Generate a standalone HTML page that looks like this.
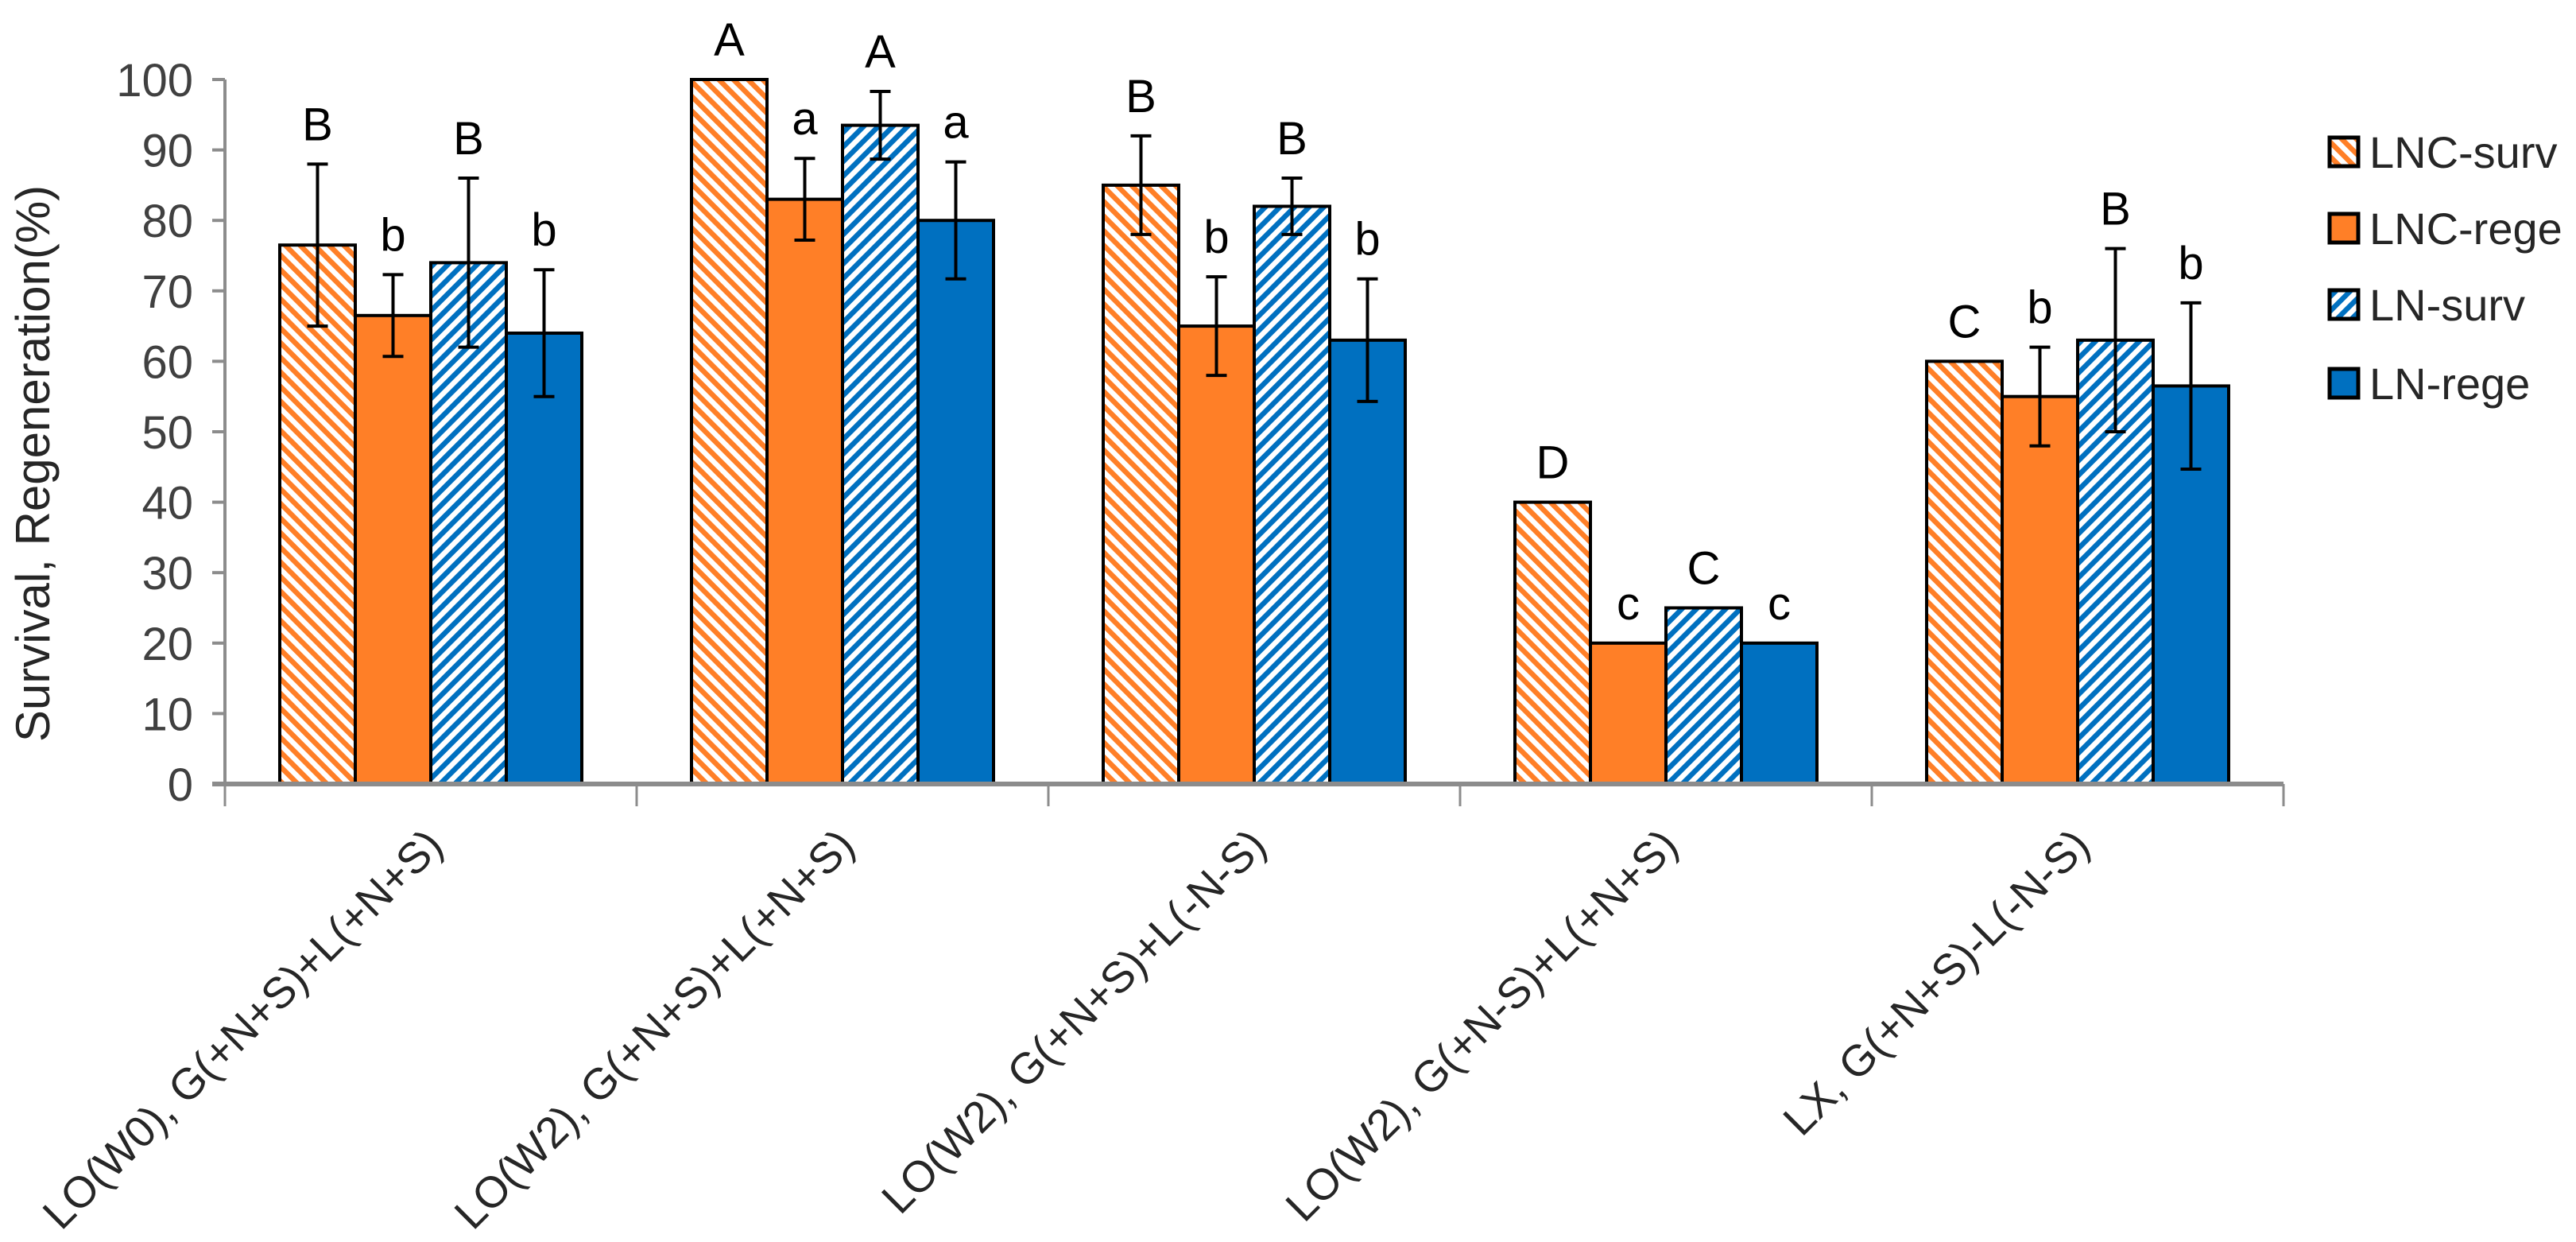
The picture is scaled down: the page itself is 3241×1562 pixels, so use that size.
<!DOCTYPE html>
<html><head><meta charset="utf-8"><style>
html,body{margin:0;padding:0;background:#fff;}
svg{display:block;font-family:"Liberation Sans",sans-serif;}
</style></head><body>
<svg id="chart" width="3241" height="1562" viewBox="0 0 3241 1562">
<defs>
<pattern id="pOr" patternUnits="userSpaceOnUse" width="13" height="13" patternTransform="rotate(-45)">
<rect width="13" height="13" fill="#ff7f27"/><rect width="6.5" height="13" fill="#fff"/></pattern>
<pattern id="pBl" patternUnits="userSpaceOnUse" width="13" height="13" patternTransform="rotate(45)">
<rect width="13" height="13" fill="#0070c0"/><rect width="6.5" height="13" fill="#fff"/></pattern>
</defs>
<g id="plot"></g>
</svg>
<script>
const categories=["LO(W0), G(+N+S)+L(+N+S)","LO(W2), G(+N+S)+L(+N+S)","LO(W2), G(+N+S)+L(-N-S)","LO(W2), G(+N-S)+L(+N+S)","LX, G(+N+S)-L(-N-S)"];
const seriesNames=["LNC-surv","LNC-rege","LN-surv","LN-rege"];
const lncSurv=[76.5,100,85,40,60];
const lncRege=[66.5,83,65,20,55];
const lnSurv=[74,93.5,82,25,63];
const lnRege=[64,80,63,20,56.5];
const lncSurvErr=[11.5,0,7,0,0];
const lncRegeErr=[5.8,5.8,7,0,7];
const lnSurvErr=[12,4.8,4,0,13];
const lnRegeErr=[9,8.3,8.7,0,11.8];
const lncSurvLetters=["B","A","B","D","C"];
const lncRegeLetters=["b","a","b","c","b"];
const lnSurvLetters=["B","A","B","C","B"];
const lnRegeLetters=["b","a","b","c","b"];
const yTicks=[0,10,20,30,40,50,60,70,80,90,100];

const NS="http://www.w3.org/2000/svg";
const g=document.getElementById('plot');
const x0=283,x1=2873,y0=986,y100=100;
const catW=(x1-x0)/categories.length, barW=catW*0.1834;
function yS(v){return y0-(y0-y100)*v/100;}
function mk(t,a,txt){const e=document.createElementNS(NS,t);for(const k in a)e.setAttribute(k,a[k]);if(txt!==undefined)e.textContent=txt;g.appendChild(e);return e;}

let ya=mk('line',{x1:x0,y1:y100,x2:x0,y2:y0,stroke:'#8c8c8c','stroke-width':4});


yTicks.forEach(v=>{
  let t=mk('line',{x1:x0-16,y1:yS(v),x2:x0,y2:yS(v),stroke:'#8c8c8c','stroke-width':4});
  
  
  let l=mk('text',{x:x0-40,y:yS(v)+21,'text-anchor':'end','font-size':58,fill:'#404040'},v);
  
  
});
let yt=mk('text',{x:0,y:0,'text-anchor':'middle','font-size':60,fill:'#262626',transform:`translate(62,${(y0+y100)/2+40}) rotate(-90)`},'Survival, Regeneration(%)');



const series=[
 {v:lncSurv,e:lncSurvErr,l:lncSurvLetters,f:'url(#pOr)'},
 {v:lncRege,e:lncRegeErr,l:lncRegeLetters,f:'#ff7f27'},
 {v:lnSurv,e:lnSurvErr,l:lnSurvLetters,f:'url(#pBl)'},
 {v:lnRege,e:lnRegeErr,l:lnRegeLetters,f:'#0070c0'}];
const names=['lnc-surv','lnc-rege','ln-surv','ln-rege'];
categories.forEach((c,i)=>{
  const cx=x0+catW*(i+0.5);
  series.forEach((s,j)=>{
    const bx=cx-2*barW+j*barW, v=s.v[i];
    let r=mk('rect',{x:bx,y:yS(v),width:barW,height:y0-yS(v),fill:s.f,stroke:'#000','stroke-width':4});
    
    
    const mx=bx+barW/2; let top=yS(v);
    if(s.e[i]>0){
      const ht=yS(v+s.e[i]), hb=yS(v-s.e[i]);
      let eb=mk('path',{d:`M${mx},${ht}V${hb}M${mx-13},${ht}H${mx+13}M${mx-13},${hb}H${mx+13}`,stroke:'#000','stroke-width':4,fill:'none'});
      
      
      top=ht;
    }
    let lt=mk('text',{x:mx,y:top-30,'text-anchor':'middle','font-size':58,fill:'#000'},s.l[i]);
    
    
  });
  let cl=mk('text',{x:0,y:0,'text-anchor':'end','font-size':55,fill:'#262626',transform:`translate(${cx+18},${y0+80}) rotate(-45)`},c);
  
  
});
let xa=mk('line',{x1:x0-16,y1:y0,x2:x1,y2:y0,stroke:'#8c8c8c','stroke-width':6});


for(let i=0;i<=categories.length;i++){
  let t=mk('line',{x1:x0+catW*i,y1:y0,x2:x0+catW*i,y2:y0+28,stroke:'#8c8c8c','stroke-width':3});
  
  
}
const lf=['url(#pOr)','#ff7f27','url(#pBl)','#0070c0'], ly=[191,287,383,482];
seriesNames.forEach((n,i)=>{
  let s=mk('rect',{x:2931,y:ly[i]-18,width:36,height:36,fill:lf[i],stroke:'#000','stroke-width':5});
  
  
  let t=mk('text',{x:2981,y:ly[i]+20,'font-size':56,fill:'#262626'},n);
  
  
});
</script>
</body></html>
